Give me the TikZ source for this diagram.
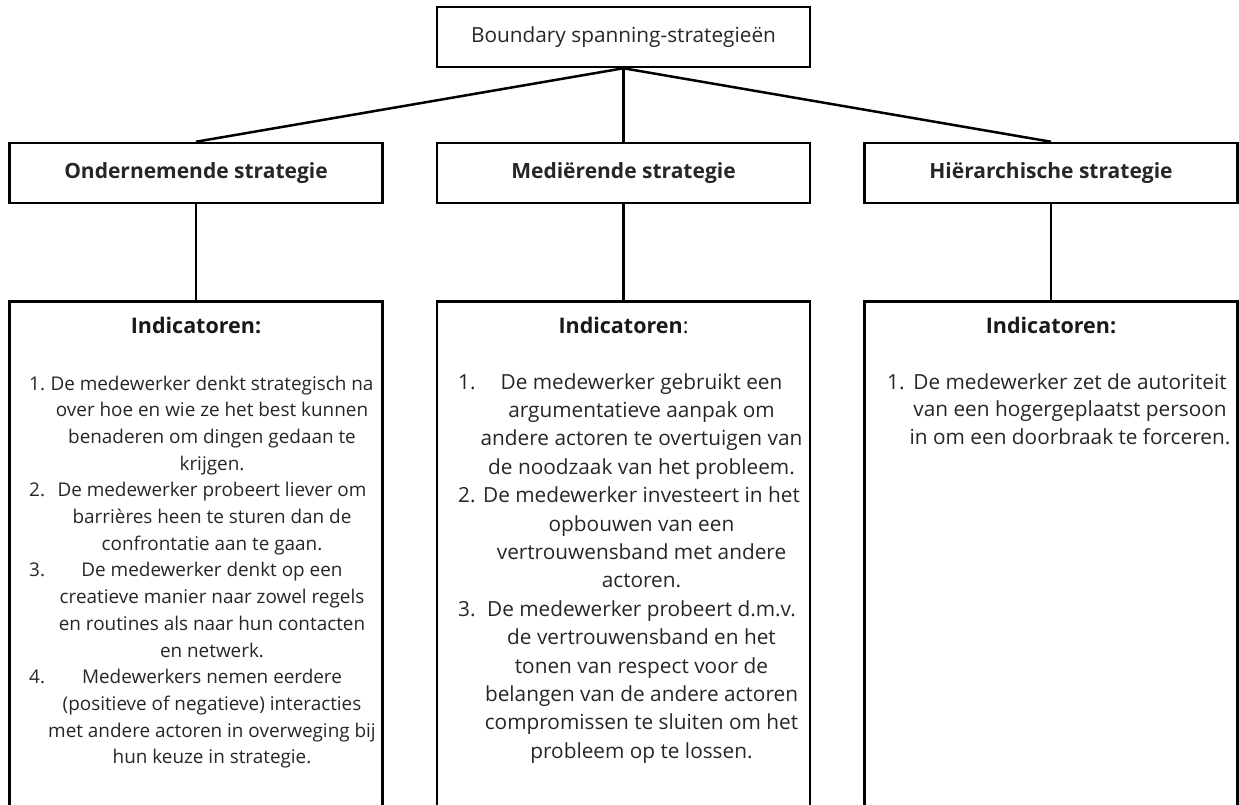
\documentclass[tikz,border=0pt]{standalone}
\usepackage{fontspec}
\setmainfont{Open Sans}
\begin{document}
\begin{tikzpicture}[x=1pt,y=-1pt,
  box/.style={draw=black,line width=2.5pt,minimum width=373pt,inner sep=0pt,text=black!85},
  link/.style={draw=black,line width=2.5pt},
  body/.style={align=center,anchor=base,inner sep=0pt,text=black!85},
  num/.style={anchor=base west,inner sep=0pt,text=black!85},
  head/.style={font=\fontsize{21}{24}\selectfont\bfseries},
  ind/.style={font=\fontsize{21.5}{24}\selectfont,anchor=base,inner sep=0pt,text=black!90}]
\clip (0,0) rectangle (1239,804);
\node[box,minimum height=60pt,font=\fontsize{20.8}{24}\selectfont] (top) at (623.5,37) {Boundary spanning-strategieën};
\node[box,minimum height=60pt,head] (s1) at (196,173) {Ondernemende strategie};
\node[box,minimum height=60pt,head] (s2) at (623.5,173) {Mediërende strategie};
\node[box,minimum height=60pt,head] (s3) at (1051,173) {Hiërarchische strategie};
\node[box,minimum height=540pt,anchor=north] (b1) at (196,300) {};
\node[box,minimum height=540pt,anchor=north] (b2) at (623.5,300) {};
\node[box,minimum height=540pt,anchor=north] (b3) at (1051,300) {};
\draw[link] (top.south) -- (s1.north);
\draw[link] (top.south) -- (s2.north);
\draw[link] (top.south) -- (s3.north);
\draw[link] (s1.south) -- (b1.north);
\draw[link] (s2.south) -- (b2.north);
\draw[link] (s3.south) -- (b3.north);
% headings
\node[ind] (i1) at (196,333) {\bfseries Indicatoren:};
\node[ind] (i2) at (623.5,333) {\textbf{Indicatoren}:};
\node[ind] (i3) at (1051,333) {\bfseries Indicatoren:};
% left box
\node[body,font=\fontsize{18.9}{26.7}\selectfont] (t1) at (212,763.8) {De medewerker denkt strategisch na\\over hoe en wie ze het best kunnen\\benaderen om dingen gedaan te\\krijgen.\\De medewerker probeert liever om\\barrières heen te sturen dan de\\confrontatie aan te gaan.\\De medewerker denkt op een\\creatieve manier naar zowel regels\\en routines als naar hun contacten\\en netwerk.\\Medewerkers nemen eerdere\\(positieve of negatieve) interacties\\met andere actoren in overweging bij\\hun keuze in strategie.};
\node[num,font=\fontsize{18.9}{24}\selectfont] (n11) at (29,390) {1.};
\node[num,font=\fontsize{18.9}{24}\selectfont] (n12) at (29,496.8) {2.};
\node[num,font=\fontsize{18.9}{24}\selectfont] (n13) at (29,576.9) {3.};
\node[num,font=\fontsize{18.9}{24}\selectfont] (n14) at (29,683.7) {4.};
% middle box
\node[body,font=\fontsize{20.8}{28.4}\selectfont] (t2) at (641.5,758.2) {De medewerker gebruikt een\\argumentatieve aanpak om\\andere actoren te overtuigen van\\de noodzaak van het probleem.\\De medewerker investeert in het\\opbouwen van een\\vertrouwensband met andere\\actoren.\\De medewerker probeert d.m.v.\\de vertrouwensband en het\\tonen van respect voor de\\belangen van de andere actoren\\compromissen te sluiten om het\\probleem op te lossen.};
\node[num,font=\fontsize{20.8}{24}\selectfont] (n21) at (458,389) {1.};
\node[num,font=\fontsize{20.8}{24}\selectfont] (n22) at (458,502.6) {2.};
\node[num,font=\fontsize{20.8}{24}\selectfont] (n23) at (458,616.2) {3.};
% right box
\node[body,font=\fontsize{20.8}{27.7}\selectfont] (t3) at (1070,444.4) {De medewerker zet de autoriteit\\van een hogergeplaatst persoon\\in om een doorbraak te forceren.};
\node[num,font=\fontsize{20.8}{24}\selectfont] (n31) at (887,389) {1.};
\end{tikzpicture}
\end{document}
